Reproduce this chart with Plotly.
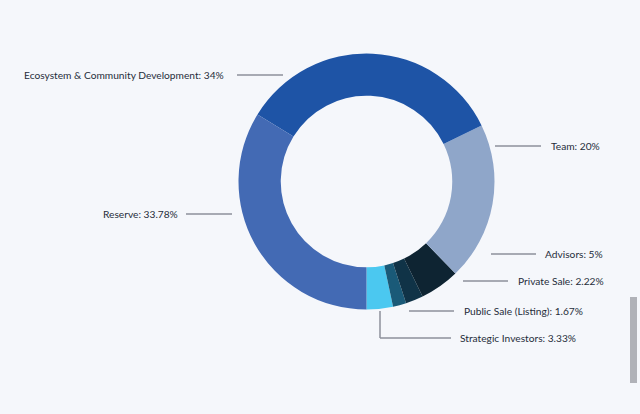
import plotly.graph_objects as go

# token allocation (counter-clockwise from 6 o'clock)
names = ["Strategic Investors", "Public Sale (Listing)", "Private Sale", "Advisors",
         "Team", "Ecosystem & Community Development", "Reserve"]
shares = [3.33, 1.67, 2.22, 5, 20, 34, 33.78]
share_text = ["3.33%", "1.67%", "2.22%", "5%", "20%", "34%", "33.78%"]
colors = ["rgb(75,200,240)", "rgb(26,90,120)", "rgb(16,51,71)", "rgb(14,36,50)",
          "rgb(143,166,201)", "rgb(30,84,166)", "rgb(67,106,180)"]

W, H = 640, 414
bg = "rgb(245,247,251)"
line_col = "rgb(140,145,155)"

def px(x):
    return x / W

def py(y):
    return 1 - y / H

# plotly ends the first ccw slice at `rotation`, so shift it to start at 6 o'clock
start_rot = 180 - shares[0] / sum(shares) * 360

fig = go.Figure()
fig.add_trace(go.Pie(
    labels=names,
    values=shares,
    hole=0.67,
    sort=False,
    direction="counterclockwise",
    rotation=start_rot,
    marker=dict(colors=colors, line=dict(width=0)),
    textinfo="none",
    hoverinfo="label+percent",
    showlegend=False,
    domain=dict(x=[px(238.5), px(494.5)], y=[py(309.5), py(53.5)]),
))

# label layout: (text x, y, anchor, line x0, line x1)
label_pos = {
    "Ecosystem & Community Development": (226, 75, "right", 237, 283),
    "Team": (549, 146, "left", 495, 541),
    "Reserve": (180, 214, "right", 186, 232),
    "Advisors": (543, 254, "left", 491, 536),
    "Private Sale": (516, 281, "left", 463, 508),
    "Public Sale (Listing)": (462, 311, "left", 409, 454),
    "Strategic Investors": (458, 338, "left", 380, 451),
}

for name, txt in zip(names, share_text):
    tx, ty, anchor, x0, x1 = label_pos[name]
    fig.add_annotation(
        x=px(tx), y=py(ty), xref="paper", yref="paper",
        text=f"{name}: {txt}", showarrow=False, xanchor=anchor, yanchor="middle",
        font=dict(family="Lato", size=10.2, color="rgb(38,45,58)"),
    )
    fig.add_shape(type="line", xref="paper", yref="paper",
                  x0=px(x0), x1=px(x1), y0=py(ty), y1=py(ty),
                  line=dict(color=line_col, width=1.5))

# strategic investors elbow
fig.add_shape(type="line", xref="paper", yref="paper",
              x0=px(380), x1=px(380), y0=py(311), y1=py(338),
              line=dict(color=line_col, width=1.5))

# scrollbar in the screenshot
fig.add_shape(type="rect", xref="paper", yref="paper",
              x0=px(630), x1=px(637), y0=py(383), y1=py(297),
              fillcolor="rgb(176,178,184)", line=dict(width=0))

fig.update_layout(
    width=W, height=H,
    margin=dict(l=0, r=0, t=0, b=0),
    paper_bgcolor=bg,
    plot_bgcolor=bg,
)

fig.write_html("out.html", config={"displayModeBar": False},
               post_script="document.body.style.margin='0';")
